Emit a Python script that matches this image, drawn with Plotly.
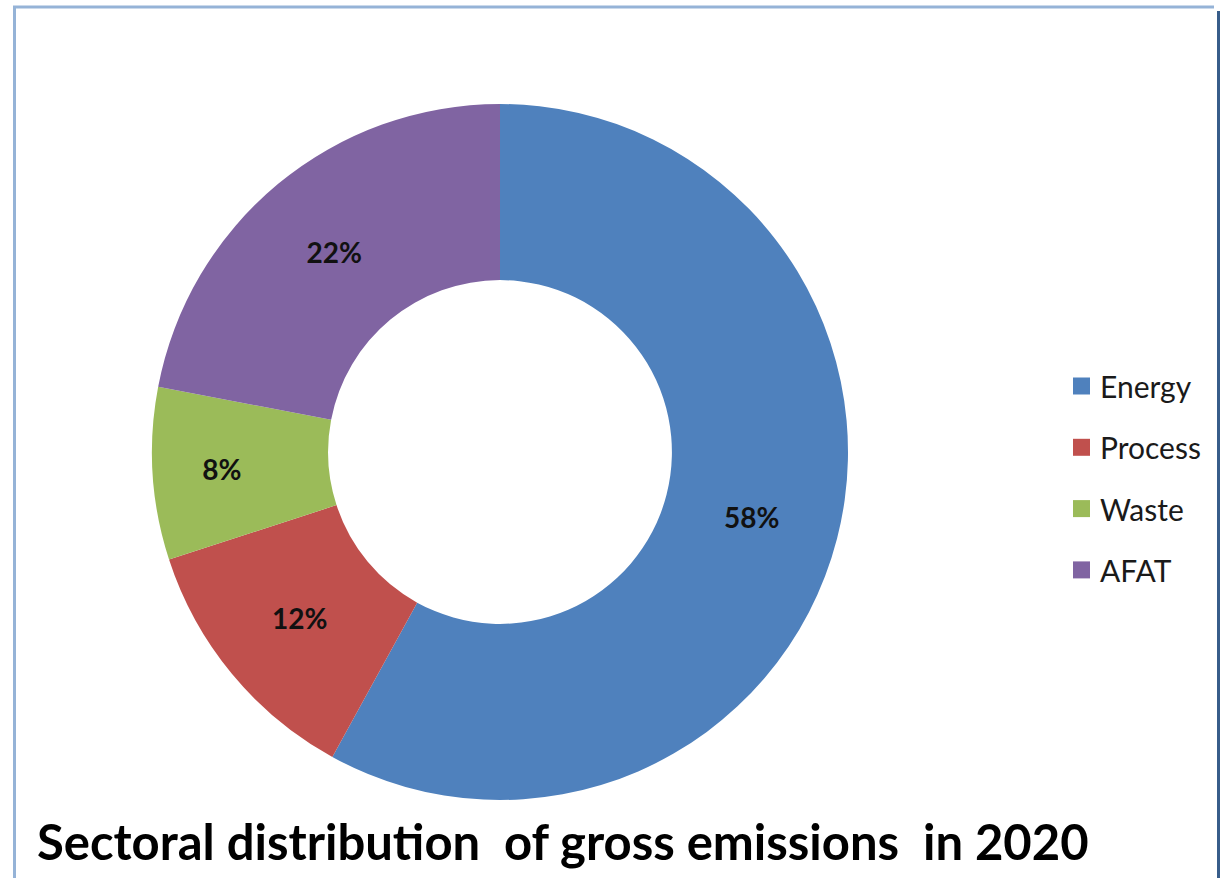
import plotly.graph_objects as go

W, H = 1232, 878

sectors = ["Energy", "Process", "Waste", "AFAT"]
shares = [58, 12, 8, 22]
colors = ["#4F81BD", "#C0504D", "#9BBB59", "#8064A2"]
title_text = "Sectoral distribution\u00a0 of gross emissions\u00a0 in 2020"


def px_x(v):
    return v / W


def px_y(v):
    return 1 - v / H


fig = go.Figure()
fig.add_trace(go.Pie(
    labels=sectors,
    values=shares,
    marker=dict(colors=colors, line=dict(width=0)),
    hole=0.494,
    sort=False,
    direction="clockwise",
    rotation=0,
    textinfo="percent",
    texttemplate="%{percent:.0%}",
    textposition="inside",
    insidetextorientation="horizontal",
    textfont=dict(family="Lato", size=28, color="#111111", weight="bold"),
    domain=dict(x=[px_x(152), px_x(848)], y=[px_y(800), px_y(104)]),
    showlegend=False,
    hoverinfo="label+percent",
))

shapes = [
    # frame lines
    dict(type="line", xref="paper", yref="paper", x0=px_x(13), x1=px_x(1214),
         y0=px_y(7), y1=px_y(7), line=dict(color="#95B3D7", width=3)),
    dict(type="line", xref="paper", yref="paper", x0=px_x(14.5), x1=px_x(14.5),
         y0=px_y(6), y1=px_y(878), line=dict(color="#95B3D7", width=3)),
    dict(type="line", xref="paper", yref="paper", x0=px_x(1218.5), x1=px_x(1218.5),
         y0=px_y(11), y1=px_y(878), line=dict(color="#385D8A", width=3)),
]
annotations = []

# manual legend
row0, step = 386, 61.3
for i, (name, col) in enumerate(zip(sectors, colors)):
    cy = row0 + i * step
    shapes.append(dict(type="rect", xref="paper", yref="paper",
                       x0=px_x(1073), x1=px_x(1090), y0=px_y(cy + 8.5), y1=px_y(cy - 8.5),
                       fillcolor=col, line=dict(width=0)))
    annotations.append(dict(x=px_x(1098), y=px_y(cy), xref="paper", yref="paper",
                            text=name, showarrow=False, xanchor="left", yanchor="middle",
                            font=dict(family="Lato", size=30, color="#1a1a1a")))

annotations.append(dict(x=px_x(35), y=px_y(841), xref="paper", yref="paper",
                        text=title_text, showarrow=False, xanchor="left", yanchor="middle",
                        font=dict(family="Lato", size=49, color="#000000", weight="bold")))

fig.update_layout(
    width=W, height=H,
    margin=dict(l=0, r=0, t=0, b=0),
    paper_bgcolor="white",
    plot_bgcolor="white",
    shapes=shapes,
    annotations=annotations,
    showlegend=False,
)

fig.write_html("out.html")
